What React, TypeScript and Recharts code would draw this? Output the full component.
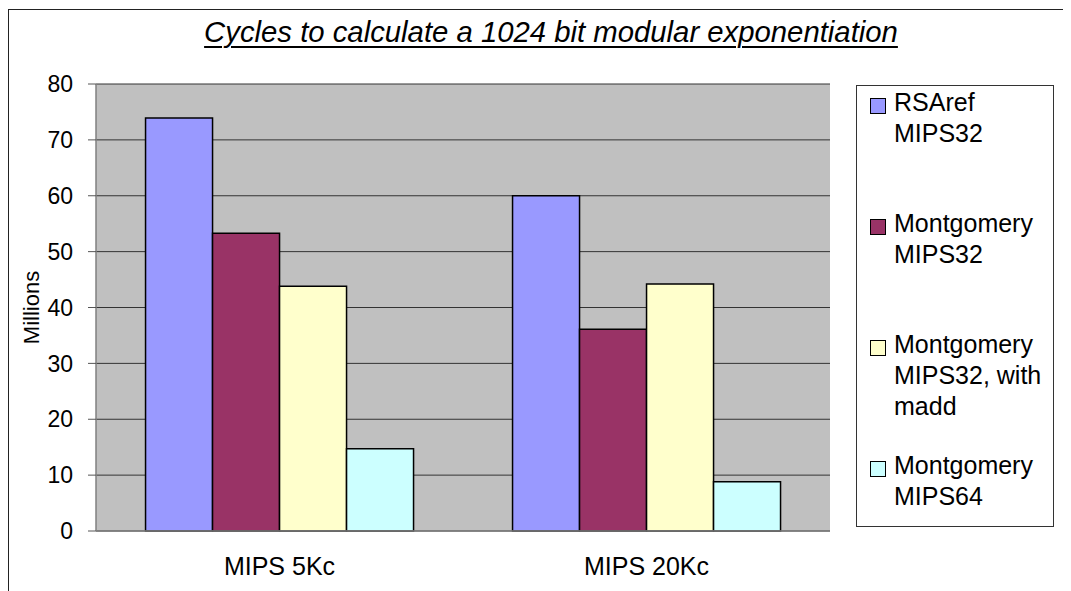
import React from 'react';
import { BarChart, Bar, XAxis, YAxis, CartesianGrid } from 'recharts';

const categories = ['MIPS 5Kc', 'MIPS 20Kc'];
const rsarefMips32 = [73.9, 60.0];
const montMips32 = [53.3, 36.1];
const montMips32Madd = [43.8, 44.2];
const montMips64 = [14.7, 8.8];
const yTicks = [0, 10, 20, 30, 40, 50, 60, 70, 80];

const series = [
  { key: 'rsaref', lines: ['RSAref', 'MIPS32'], values: rsarefMips32, color: '#9999FF' },
  { key: 'mont32', lines: ['Montgomery', 'MIPS32'], values: montMips32, color: '#993366' },
  { key: 'mont32madd', lines: ['Montgomery', 'MIPS32, with', 'madd'], values: montMips32Madd, color: '#FFFFCC' },
  { key: 'mont64', lines: ['Montgomery', 'MIPS64'], values: montMips64, color: '#CCFFFF' },
];

const data = categories.map((name, i) => {
  const row: Record<string, string | number> = { name };
  series.forEach(s => { row[s.key] = s.values[i]; });
  return row;
});

const FONT = 'Arial, "Liberation Sans", sans-serif';

const MillionsLabel = (props: any) => {
  const { viewBox } = props;
  const cy = viewBox ? viewBox.y + viewBox.height / 2 : 292;
  return (
    <text x={23} y={cy} transform={`rotate(-90, 23, ${cy})`} textAnchor="middle"
      dominantBaseline="central" fontSize={22} fontFamily={FONT} fill="#000">
      Millions
    </text>
  );
};

export default function App() {
  return (
    <div style={{ position: 'relative', width: 1063, height: 583, fontFamily: FONT }}>
      {/* outer frame, only left and top edges show */}
      <div style={{ position: 'absolute', left: 0, top: 1, width: 1063, height: 582, boxSizing: 'border-box', borderLeft: '1.5px solid #222', borderTop: '1.5px solid #222' }} />

      <div style={{
        position: 'absolute', left: 143, top: 8, width: 800, textAlign: 'center',
        fontSize: 29.3, lineHeight: '32px', fontStyle: 'italic', color: '#000',
      }}>
        <span style={{ textDecoration: 'underline', textDecorationThickness: 2, textUnderlineOffset: 4 }}>
          Cycles to calculate a 1024 bit modular exponentiation
        </span>
      </div>

      <div style={{ position: 'absolute', left: 0, top: 0 }}>
        <BarChart width={1063} height={583} data={data}
          margin={{ top: 76, right: 241, bottom: 0, left: 0 }}
          barCategoryGap="13.5%" barGap={0}>
          <CartesianGrid fill="#C0C0C0" vertical={false} stroke="#333" strokeWidth={1} />
          <XAxis dataKey="name" height={60} tickLine={false} tickSize={0} tickMargin={26}
            axisLine={{ stroke: '#808080', strokeWidth: 1.5 }}
            tick={{ fontSize: 25, fill: '#000', fontFamily: FONT }} />
          <YAxis width={88} domain={[0, 80]} ticks={yTicks} interval={0}
            tickSize={8} tickMargin={15}
            tickLine={{ stroke: '#555' }} axisLine={{ stroke: '#808080', strokeWidth: 1.5 }}
            tick={{ fontSize: 23, fill: '#000', fontFamily: FONT }}
            label={<MillionsLabel />} />
          <YAxis yAxisId="right" orientation="right" width={0} domain={[0, 80]} ticks={yTicks}
            tick={false} tickLine={false} axisLine={{ stroke: '#808080', strokeWidth: 1.5 }} />
          {series.map(s => (
            <Bar key={s.key} dataKey={s.key} fill={s.color} stroke="#000" strokeWidth={1.5}
              isAnimationActive={false} />
          ))}
        </BarChart>
      </div>

      {/* legend */}
      <div style={{
        position: 'absolute', left: 848, top: 77, width: 196, height: 440,
        border: '1px solid #333', background: '#fff', boxSizing: 'content-box',
      }}>
        {series.map(s => (
          <div key={s.key} style={{ position: 'relative', height: 120, paddingTop: 1 }}>
            <div style={{
              position: 'absolute', left: 13, top: 12, width: 14, height: 14,
              background: s.color, border: '1.5px solid #000',
            }} />
            <div style={{ position: 'absolute', left: 37, top: 1, fontSize: 25, lineHeight: '31px', color: '#000', whiteSpace: 'nowrap' }}>
              {s.lines.map((l, i) => <div key={i}>{l}</div>)}
            </div>
          </div>
        ))}
      </div>
    </div>
  );
}
